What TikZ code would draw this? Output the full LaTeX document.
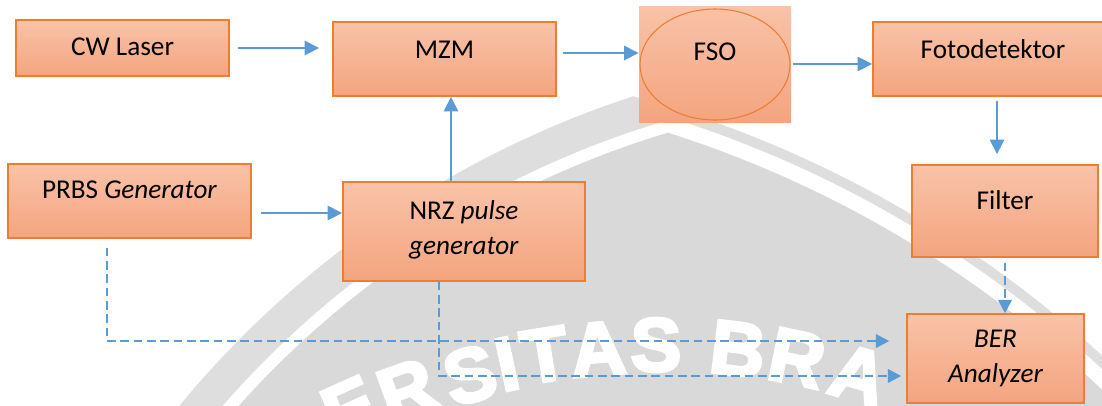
\documentclass[tikz,border=0pt]{standalone}
\usepackage{fontspec}
\setmainfont{Carlito}
\newfontfamily\markfont{Liberation Sans}[BoldFeatures={FakeBold=4}]
\usetikzlibrary{arrows.meta,shapes.geometric}

\definecolor{boxtop}{HTML}{F8C3A8}
\definecolor{boxbot}{HTML}{F4A47F}
\definecolor{boxline}{HTML}{ED7D31}
\definecolor{flow}{HTML}{5B9BD5}
\definecolor{shieldin}{HTML}{D9D9D9}
\definecolor{shieldout}{HTML}{DEDEDE}

\begin{document}
\begin{tikzpicture}[x=0.75pt,y=-0.75pt,
  box/.style={draw=boxline, line width=1.1pt, top color=boxtop, bottom color=boxbot,
              inner sep=0pt, rectangle},
  txt/.style={font=\fontsize{20.4}{26.3}\selectfont, align=center, inner sep=0pt, text=black},
  arr/.style={draw=flow, line width=2.1pt, -{Triangle[length=11pt,width=10.5pt]}},
  darr/.style={draw=flow, line width=1.9pt, dash pattern=on 6.5pt off 3.5pt,
               -{Triangle[length=10pt,width=10pt]}},
  logoletter/.style={font=\markfont\bfseries\fontsize{57}{57}\selectfont, text=white, inner sep=0pt}]

\useasboundingbox (0,0) rectangle (1102,405);
\clip (0,0) rectangle (1102,405);

% shield emblem: outer band, white gap, inner face
\begin{scope}
  \clip (937,1030) circle[radius=736.2pt];
  \fill[shieldout] (328,1203) circle[radius=860.8pt];
\end{scope}
\begin{scope}
  \clip (937,1030) circle[radius=711.4pt];
  \fill[white] (328,1203) circle[radius=853.3pt];
\end{scope}
\begin{scope}
  \clip (937,1030) circle[radius=702.4pt];
  \fill[shieldin] (328,1203) circle[radius=842pt];
\end{scope}

% lettering along the lower arc of the emblem
\foreach \ch/\xx/\yy [count=\i] in {E/350/408,R/407/390,S/470/375,I/507/364,T/545/355,
                                    A/598/349,S/656/345,B/738/349,R/797/358,A/859/375}{
  \pgfmathsetmacro\rr{-atan((\xx-655)/680)}
  \node[logoletter, rotate=\rr] (lg\i) at (\xx,\yy) {\ch};
}

% blocks
\node[box, minimum width=159.75pt, minimum height=42pt] (cw) at (122.5,48) {};
\node[box, minimum width=167.25pt, minimum height=55.5pt] (mzm) at (444.5,59) {};
\node[top color=boxtop, bottom color=boxbot, inner sep=0pt,
      minimum width=114pt, minimum height=87pt] (fso) at (715,64) {};
\node[ellipse, draw=boxline, line width=0.8pt, inner sep=0pt,
      minimum width=112.5pt, minimum height=83.25pt] (fsoring) at (715,64.5) {};
\node[box, minimum width=180pt, minimum height=55.5pt] (foto) at (993,59) {};
\node[box, minimum width=139.5pt, minimum height=69pt] (filter) at (1005,211) {};
\node[box, minimum width=132.75pt, minimum height=66.75pt] (ber) at (995.5,358.5) {};
\node[box, minimum width=182.25pt, minimum height=55.5pt] (prbs) at (129.5,201) {};
\node[box, minimum width=181.5pt, minimum height=74.25pt] (nrz) at (464,231.5) {};

% block captions
\node[txt] (cw-t) at ([yshift=0.75pt]cw.center) {CW Laser};
\node[txt] (mzm-t) at ([yshift=6.75pt]mzm.center) {MZM};
\node[txt] (fso-t) at ([yshift=9.4pt]fsoring.center) {FSO};
\node[txt] (foto-t) at ([yshift=7.5pt]foto.center) {Fotodetektor};
\node[txt] (filter-t) at ([yshift=8.25pt]filter.center) {Filter};
\node[txt] (ber-t) at (ber.center) {\itshape BER\\\itshape Analyzer};
\node[txt] (prbs-t) at ([yshift=8.25pt]prbs.center) {PRBS \textit{Generator}};
\node[txt] (nrz-t) at ([yshift=1.5pt]nrz.center) {NRZ \textit{pulse}\\\textit{generator}};

% connector anchors
\coordinate (m1) at ([shift={(4.5pt,4.5pt)}]mzm.east);
\coordinate (f1) at ([shift={(3pt,-3pt)}]foto.south);
\coordinate (p2) at ([shift={(6.75pt,-9pt)}]prbs.east);
\coordinate (n1) at ([xshift=-9.75pt]nrz.north);
\coordinate (p1) at ([shift={(-16.9pt,-6.75pt)}]prbs.south);
\coordinate (n2) at ([xshift=-18.75pt]nrz.south);
\coordinate (b1) at ([yshift=13.1pt]ber.west);
\coordinate (b2) at ([yshift=-13.1pt]ber.west);

% signal path
\draw[arr, shorten >=9.75pt] ([xshift=6pt]cw.east) -- (cw.east -| mzm.west);
\draw[arr] (m1) -- (m1 -| fso.west);
\draw[arr] ([xshift=1.5pt]fso.east) -- (fso.east -| foto.west);
\draw[arr, shorten >=7.5pt] (f1) -- (f1 |- filter.north);
\draw[arr] (p2) -- (p2 -| nrz.west);
\draw[arr] (n1) -- (n1 |- mzm.south);

% reference paths to the analyzer
\draw[darr, shorten >=12.75pt] (p1) |- (b1);
\draw[darr, shorten >=3.75pt] (n2) |- (b2);
\draw[darr] ([yshift=-3.75pt]filter.south) -- (filter.south |- ber.north);
\end{tikzpicture}
\end{document}
